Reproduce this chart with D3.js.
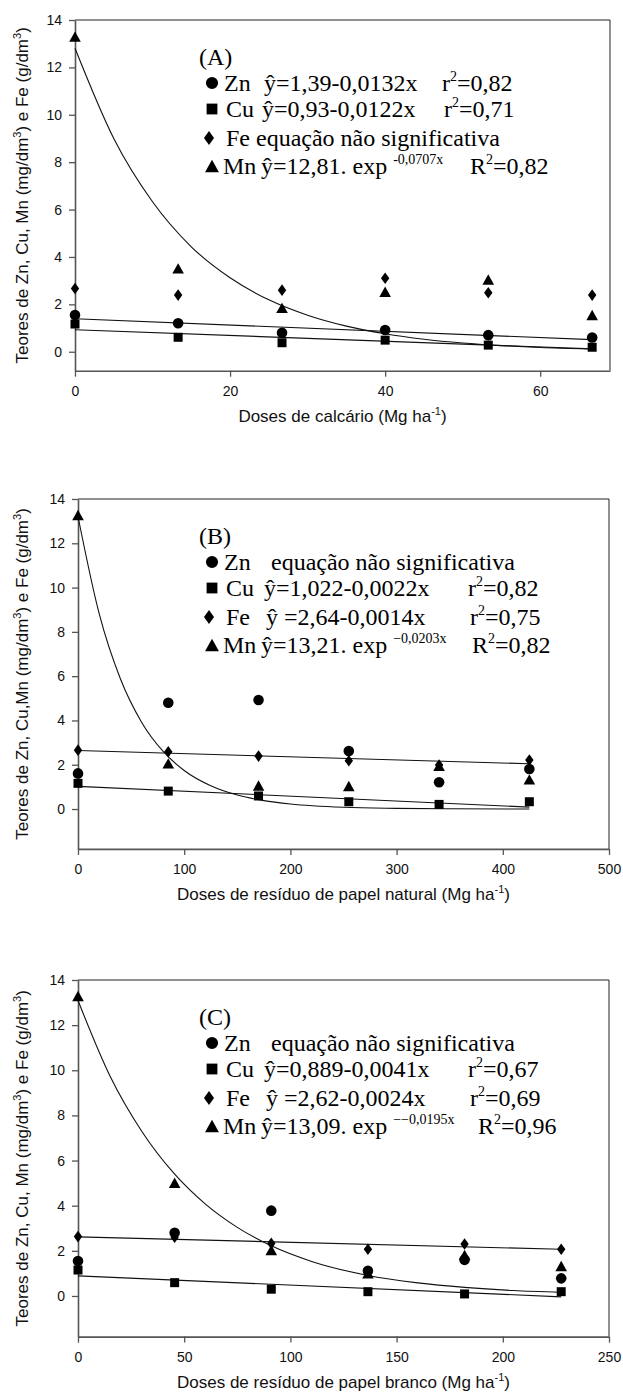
<!DOCTYPE html>
<html>
<head>
<meta charset="utf-8">
<script src="https://cdn.jsdelivr.net/npm/d3@7"></script>
<style>
  body { margin: 0; background: #fff; }
  svg { display: block; }
  .tick text { font-family: "Liberation Sans", Arial, sans-serif; font-size: 14px; fill: #111; }
  .axislabel { font-family: "Liberation Sans", Arial, sans-serif; font-size: 17px; fill: #111; }
  .leg { font-family: "Liberation Serif", "Times New Roman", serif; font-size: 24px; fill: #000; }
</style>
</head>
<body>
<div id="chart"></div>
<script>
// ---- data ----
const yTicks = [0, 2, 4, 6, 8, 10, 12, 14];

// (A) calcário
const dosesA = [0, 13.3, 26.7, 40, 53.3, 66.7];
const znA = [1.55, 1.2, 0.8, 0.92, 0.7, 0.6];
const cuA = [1.17, 0.61, 0.38, 0.49, 0.28, 0.19];
const feA = [2.67, 2.39, 2.6, 3.1, 2.49, 2.39];
const mnA = [13.3, 3.52, 1.85, 2.53, 3.05, 1.55];
const xTicksA = [0, 20, 40, 60];
const fitXA = [0, 66.7];
const fitZnA = [1.39, 0.51];
const fitCuA = [0.93, 0.12];
const mnCurveXA = [0, 5, 10, 15, 20, 25, 30, 35, 40, 45, 50, 55, 60, 66.7];
const mnCurveA = [12.81, 9.0, 6.33, 4.43, 3.12, 2.19, 1.54, 1.08, 0.76, 0.53, 0.37, 0.26, 0.18, 0.12];
const legendA = [
  ["Zn", "ŷ=1,39-0,0132x", "r^2^=0,82"],
  ["Cu", "ŷ=0,93-0,0122x", "r^2^=0,71"],
  ["Fe equação não significativa"],
  ["Mn", "ŷ=12,81. exp ^-0,0707x^", "R^2^=0,82"]
];

// (B) resíduo de papel natural
const dosesB = [0, 85, 170, 255, 340, 425];
const znB = [1.61, 4.8, 4.92, 2.62, 1.21, 1.81];
const cuB = [1.16, 0.81, 0.59, 0.33, 0.21, 0.33];
const feB = [2.66, 2.59, 2.39, 2.18, 1.99, 2.21];
const mnB = [13.28, 2.06, 1.06, 1.04, 1.95, 1.34];
const xTicksB = [0, 100, 200, 300, 400, 500];
const fitXB = [0, 425];
const fitCuB = [1.022, 0.087];
const fitFeB = [2.64, 2.045];
const mnCurveXB = [0, 20, 40, 60, 80, 100, 125, 150, 175, 200, 250, 300, 350, 425];
const mnCurveB = [13.21, 8.81, 5.87, 3.91, 2.61, 1.74, 1.05, 0.63, 0.38, 0.23, 0.08, 0.03, 0.01, 0.0];
const legendB = [
  ["Zn", "equação não significativa"],
  ["Cu", "ŷ=1,022-0,0022x", "r^2^=0,82"],
  ["Fe", "ŷ =2,64-0,0014x", "r^2^=0,75"],
  ["Mn", "ŷ=13,21. exp ^−0,0203x^", "R^2^=0,82"]
];

// (C) resíduo de papel branco
const dosesC = [0, 45.5, 91, 136.5, 182, 227.5];
const znC = [1.55, 2.8, 3.78, 1.12, 1.6, 0.78];
const cuC = [1.15, 0.59, 0.3, 0.19, 0.09, 0.19];
const feC = [2.63, 2.6, 2.33, 2.07, 2.3, 2.07];
const mnC = [13.29, 5.02, 2.04, 1.0, 1.82, 1.33];
const xTicksC = [0, 50, 100, 150, 200, 250];
const fitXC = [0, 227.5];
const fitCuC = [0.889, -0.04];
const fitFeC = [2.62, 2.07];
const mnCurveXC = [0, 15, 30, 45, 60, 75, 91, 110, 136, 160, 182, 205, 227.5];
const mnCurveC = [13.09, 9.76, 7.3, 5.45, 4.07, 3.04, 2.22, 1.53, 0.92, 0.58, 0.38, 0.24, 0.16];
const legendC = [
  ["Zn", "equação não significativa"],
  ["Cu", "ŷ=0,889-0,0041x", "r^2^=0,67"],
  ["Fe", "ŷ =2,62-0,0024x", "r^2^=0,69"],
  ["Mn", "ŷ=13,09. exp ^−−0,0195x^", "R^2^=0,96"]
];

const W = 623, H = 1399;
const svg = d3.select('#chart').append('svg')
  .attr('width', W)
  .attr('height', H);
svg.append('rect').attr('width', W).attr('height', H).attr('fill', '#fff');

// marker shapes
function shape(kind, s) {
  s = s || 1;
  if (kind === 'circle') return d3.symbol().type(d3.symbolCircle).size(88 * s * s)();
  if (kind === 'square') return d3.symbol().type(d3.symbolSquare).size(81 * s * s)();
  if (kind === 'diamond') {
    const w = 4.2 * s, h = 5.8 * s;
    return `M0,${-h}L${w},0L0,${h}L${-w},0Z`;
  }
  // triangle pointing up, bbox centred
  const a = 5.8 * s, h = 5.2 * s;
  return `M0,${-h}L${a},${h}L${-a},${h}Z`;
}

// text with ^superscript^ parts; shift in px so the baseline comes back exactly
function richText(sel, str, supSize, shift) {
  const parts = str.split('^');
  parts.forEach(function (p, i) {
    if (!p) return;
    const t = sel.append('tspan').text(p);
    if (i % 2 === 1) {
      t.attr('font-size', supSize).attr('dy', -shift);
    } else if (i > 0) {
      t.attr('dy', shift);
    }
  });
}

function drawPanel(p) {
  const x = d3.scaleLinear().domain(p.xDomain).range([p.left, p.right]);
  const y = d3.scaleLinear().domain(p.yDomain).range([p.bottom, p.top]);
  const g = svg.append('g');

  // frame top / right
  g.append('path')
    .attr('d', `M${p.left},${p.top}H${p.right}V${p.bottom}`)
    .attr('fill', 'none')
    .attr('stroke', '#222')
    .attr('stroke-width', 1);

  // axes
  const yAxis = d3.axisLeft(y).tickValues(yTicks).tickSize(6).tickSizeOuter(0).tickPadding(7)
    .tickFormat(d3.format('d'));
  const xAxis = d3.axisBottom(x).tickValues(p.xTicks).tickSize(6).tickSizeOuter(0).tickPadding(9)
    .tickFormat(d3.format('d'));
  const ga = g.append('g').attr('transform', `translate(${p.left},0)`).call(yAxis);
  const gb = g.append('g').attr('transform', `translate(0,${p.bottom})`).call(xAxis);
  [ga, gb].forEach(function (a) {
    a.select('.domain').attr('stroke', '#555').attr('stroke-width', 1.6);
    a.selectAll('.tick line').attr('stroke', '#555').attr('stroke-width', 1.3);
    a.selectAll('.tick text').attr('font-family', null).attr('font-size', null);
  });

  // axis titles
  const xl = g.append('text').attr('class', 'axislabel')
    .attr('x', (p.left + p.right) / 2)
    .attr('y', p.bottom + 51)
    .attr('text-anchor', 'middle');
  richText(xl, p.xLabel, '11px', 7);

  const yl = g.append('text').attr('class', 'axislabel')
    .attr('transform', `translate(28,${(p.top + p.bottom) / 2}) rotate(-90)`)
    .attr('text-anchor', 'middle');
  richText(yl, p.yLabel, '11px', 7);

  // fitted lines
  p.fits.forEach(function (f) {
    const line = d3.line().x(d => x(d[0])).y(d => y(d[1]))
      .curve(f.smooth ? d3.curveMonotoneX : d3.curveLinear);
    g.append('path')
      .datum(d3.zip(f.xs, f.ys))
      .attr('fill', 'none')
      .attr('stroke', '#111')
      .attr('stroke-width', 1.1)
      .attr('d', line);
  });

  // points
  p.series.forEach(function (s) {
    g.append('g').selectAll('path')
      .data(d3.zip(p.doses, s.values))
      .join('path')
      .attr('transform', d => `translate(${x(d[0])},${y(d[1])})`)
      .attr('d', shape(s.kind))
      .attr('fill', '#000');
  });

  // legend
  const L = p.legendLayout;
  const kinds = ['circle', 'square', 'diamond', 'triangle'];
  g.append('text').attr('class', 'leg')
    .attr('x', 199).attr('y', p.top + 45)
    .text(p.tag);
  p.legend.forEach(function (row, i) {
    const cy = p.top + [63, 89, 118, 146][i];
    g.append('path')
      .attr('transform', `translate(${kinds[i] === 'diamond' ? 209 : 212},${cy})`)
      .attr('d', shape(kinds[i], kinds[i] === 'circle' ? 1.15 : 1.2))
      .attr('fill', '#000');
    row.forEach(function (str, j) {
      const t = g.append('text').attr('class', 'leg')
        .attr('x', L[i][j])
        .attr('y', cy + 8);
      richText(t, str, '14px', 10);
    });
  });
}

const yLab = 'Teores de Zn, Cu, Mn (mg/dm^3^) e Fe (g/dm^3^)';

drawPanel({
  left: 75, right: 610, top: 20, bottom: 370.7,
  xDomain: [0, 69], yDomain: [-0.8, 14], xTicks: xTicksA,
  xLabel: 'Doses de calcário (Mg ha^-1^)', yLabel: yLab,
  doses: dosesA,
  series: [
    { kind: 'triangle', values: mnA },
    { kind: 'diamond', values: feA },
    { kind: 'circle', values: znA },
    { kind: 'square', values: cuA }
  ],
  fits: [
    { xs: fitXA, ys: fitZnA },
    { xs: fitXA, ys: fitCuA },
    { xs: mnCurveXA, ys: mnCurveA, smooth: true }
  ],
  tag: '(A)', legend: legendA,
  legendLayout: [[224, 264, 442], [226, 262, 444], [226], [223, 261, 470]]
});

drawPanel({
  left: 78, right: 609, top: 499, bottom: 848.9,
  xDomain: [0, 500], yDomain: [-1.8, 14], xTicks: xTicksB,
  xLabel: 'Doses de resíduo de papel natural (Mg ha^-1^)',
  yLabel: 'Teores de Zn, Cu,Mn (mg/dm^3^) e Fe (g/dm^3^)',
  doses: dosesB,
  series: [
    { kind: 'triangle', values: mnB },
    { kind: 'diamond', values: feB },
    { kind: 'circle', values: znB },
    { kind: 'square', values: cuB }
  ],
  fits: [
    { xs: fitXB, ys: fitCuB },
    { xs: fitXB, ys: fitFeB },
    { xs: mnCurveXB, ys: mnCurveB, smooth: true }
  ],
  tag: '(B)', legend: legendB,
  legendLayout: [[224, 271], [226, 264, 468], [226, 266, 470], [223, 261, 472]]
});

drawPanel({
  left: 78, right: 609, top: 980, bottom: 1336.6,
  xDomain: [0, 250], yDomain: [-1.8, 14], xTicks: xTicksC,
  xLabel: 'Doses de resíduo de papel branco (Mg ha^-1^)', yLabel: yLab,
  doses: dosesC,
  series: [
    { kind: 'triangle', values: mnC },
    { kind: 'diamond', values: feC },
    { kind: 'circle', values: znC },
    { kind: 'square', values: cuC }
  ],
  fits: [
    { xs: fitXC, ys: fitCuC },
    { xs: fitXC, ys: fitFeC },
    { xs: mnCurveXC, ys: mnCurveC, smooth: true }
  ],
  tag: '(C)', legend: legendC,
  legendLayout: [[224, 271], [226, 264, 468], [226, 266, 470], [223, 261, 478]]
});
</script>
</body>
</html>
